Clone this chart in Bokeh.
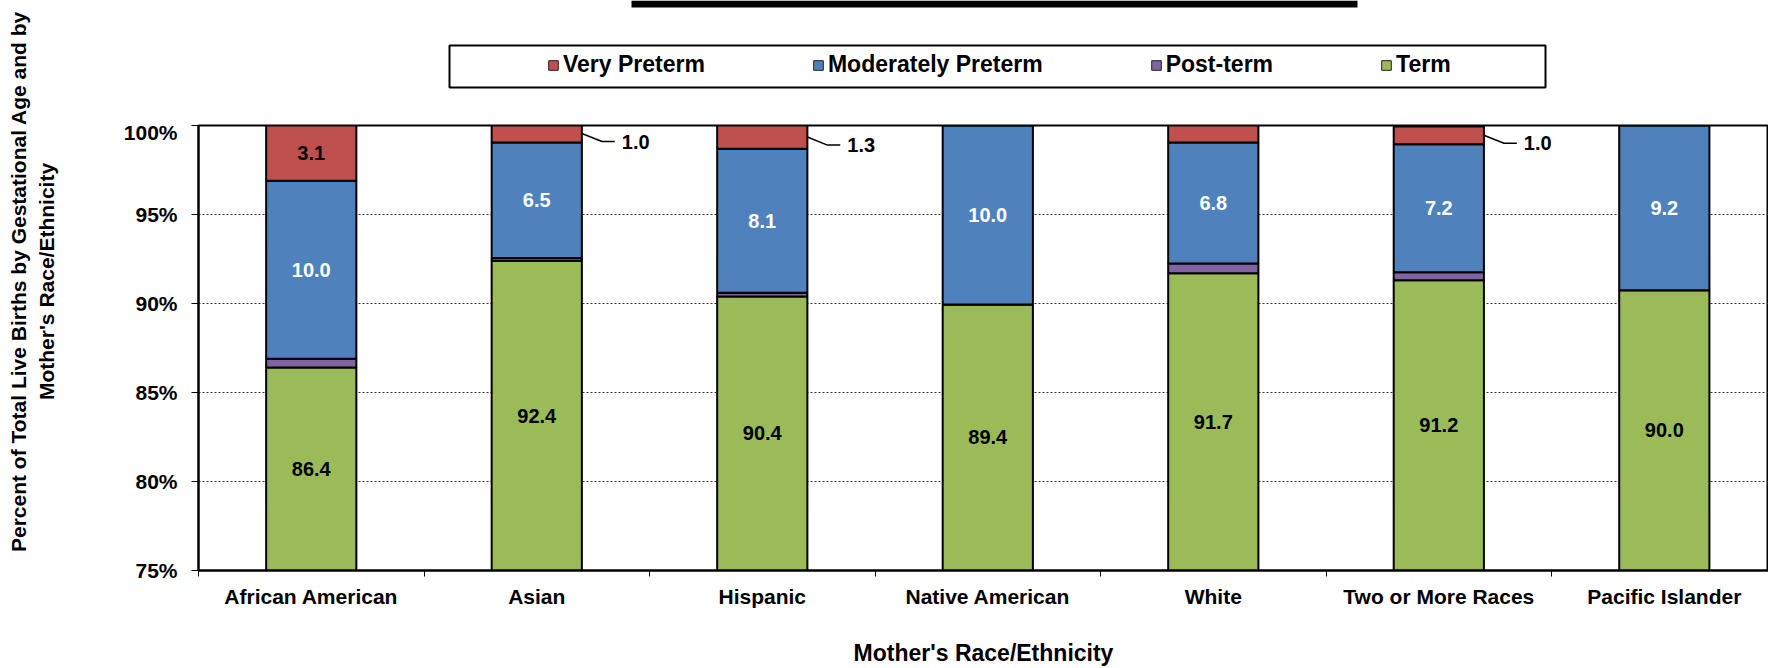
from math import pi
from bokeh.plotting import figure
from bokeh.layouts import row, column
from bokeh.models import (Range1d, FixedTicker, Legend, LegendItem, Label,
                          ColumnDataSource, PrintfTickFormatter)
from bokeh.core.properties import value
from bokeh.embed import file_html
from bokeh.resources import INLINE

# ---------------- data ----------------
categories = ["African American", "Asian", "Hispanic", "Native American",
              "White", "Two or More Races", "Pacific Islander"]
term = [86.4, 92.4, 90.4, 89.95, 91.7, 91.3, 90.75]
post_term = [0.5, 0.15, 0.2, 0.0, 0.55, 0.45, 0.0]
mod_preterm = [10.0, 6.5, 8.1, 10.05, 6.8, 7.2, 9.25]
very_preterm = [3.1, 1.0, 1.3, 0.0, 1.0, 1.0, 0.0]
term_labels = ["86.4", "92.4", "90.4", "89.4", "91.7", "91.2", "90.0"]
mod_labels = ["10.0", "6.5", "8.1", "10.0", "6.8", "7.2", "9.2"]
very_labels = ["3.1", "1.0", "1.3", "", "", "1.0", ""]
y_ticks = [75, 80, 85, 90, 95, 100]
grid_ticks = [80, 85, 90, 95]

series_names = ["Very Preterm", "Moderately Preterm", "Post-term", "Term"]
colors = {"Very Preterm": "#C0504D", "Moderately Preterm": "#4F81BD",
          "Post-term": "#8064A2", "Term": "#9BBB59"}

FONT = "Liberation Sans"
BAR_W = 0.4
LEFT_W = 60       # width of the strip holding the y-axis title
HEAD_H = 120      # height of the strip holding title bar + legend
FRAME_L = 198     # page x of the plot area's left edge
FRAME_W = 1570


def bare(fig):
    fig.xaxis.visible = False
    fig.yaxis.visible = False
    fig.xgrid.visible = False
    fig.ygrid.visible = False
    fig.outline_line_color = None
    fig.background_fill_color = "white"
    fig.border_fill_color = "white"
    return fig


# ---------------- left strip: y-axis title ----------------
left = bare(figure(width=LEFT_W, height=665, x_range=Range1d(0, LEFT_W),
                   y_range=Range1d(665, 0), output_backend="svg",
                   toolbar_location=None, min_border=0))
left.add_layout(Label(x=32, y=281,
                      text="Percent of Total Live Births by Gestational Age and by\nMother's Race/Ethnicity",
                      angle=pi / 2, text_align="center", text_baseline="middle",
                      text_font=FONT, text_font_style="bold", text_font_size="21px",
                      text_line_height=1.2, text_color="black"))

# ---------------- header strip: title bar + legend (page-pixel coordinates) ----------------
head = bare(figure(frame_width=FRAME_W, frame_height=HEAD_H,
                   x_range=Range1d(FRAME_L, FRAME_L + FRAME_W),
                   y_range=Range1d(HEAD_H, 0), output_backend="svg",
                   toolbar_location=None, min_border_left=FRAME_L - LEFT_W,
                   min_border_right=0, min_border_top=0, min_border_bottom=0))
head.quad(left=[631], right=[1357], top=[0], bottom=[7], fill_color="black", line_color=None)
proxies = {}
for name in series_names:
    # legend proxies, hidden underneath the legend box drawn next
    proxies[name] = head.vbar(x=[1000], top=[60], bottom=[70], width=10,
                              fill_color=colors[name], line_color="#222222", line_width=1)
head.quad(left=[449], right=[1545], top=[45], bottom=[87], fill_color="white",
          line_color="black", line_width=2)
legend = Legend(items=[LegendItem(label=n, renderers=[proxies[n]]) for n in series_names],
                location=(547 - FRAME_L, HEAD_H - 78), orientation="horizontal",
                spacing=107, padding=0, margin=0,
                glyph_width=12, glyph_height=12, label_standoff=4, label_height=24,
                label_text_font=FONT, label_text_font_style="bold",
                label_text_font_size="23px", label_text_color="black",
                border_line_color=None, background_fill_alpha=0)
head.add_layout(legend)

# ---------------- main chart ----------------
xc = [i + 0.5 for i in range(len(categories))]
src = ColumnDataSource(dict(x=xc, term=term, post=post_term,
                            mod=mod_preterm, very=very_preterm))

p = figure(frame_width=FRAME_W, frame_height=445,
           x_range=Range1d(0, 6.962), y_range=Range1d(75, 100),
           output_backend="svg", toolbar_location=None,
           min_border_left=FRAME_L - LEFT_W, min_border_right=0,
           min_border_top=125 - HEAD_H, min_border_bottom=0)
p.outline_line_color = "black"
p.outline_line_width = 2
p.background_fill_color = "white"
p.border_fill_color = "white"

p.xgrid.visible = False
p.ygrid.ticker = FixedTicker(ticks=grid_ticks)
p.ygrid.grid_line_color = "#333333"
p.ygrid.grid_line_dash = "2 2"
p.ygrid.grid_line_width = 1

renderers = p.vbar_stack(["term", "post", "mod", "very"], x="x", width=BAR_W, source=src,
                         fill_color=[colors["Term"], colors["Post-term"],
                                     colors["Moderately Preterm"], colors["Very Preterm"]],
                         line_color="black", line_width=2)

# data labels
ystart = p.y_range.start
term_y = [(ystart + t) / 2 for t in term]
mod_y = [t + pt + m / 2 for t, pt, m in zip(term, post_term, mod_preterm)]
p.text(x=xc, y=term_y, text=term_labels, text_align="center", text_baseline="middle",
       text_font=value(FONT), text_font_style="bold", text_font_size="20px", text_color="black")
p.text(x=xc, y=mod_y, text=mod_labels, text_align="center", text_baseline="middle",
       text_font=value(FONT), text_font_style="bold", text_font_size="20px", text_color="white")

in_x, in_y, in_t = [], [], []
co_x, co_y, co_t, lead_xs, lead_ys = [], [], [], [], []
for x, t, pt, m, v, lab in zip(xc, term, post_term, mod_preterm, very_preterm, very_labels):
    if not lab:
        continue
    yc = t + pt + m + v / 2
    if v >= 2:
        in_x.append(x); in_y.append(yc); in_t.append(lab)
    else:
        yl = yc - 0.45
        xr = x + BAR_W / 2
        lead_xs.append([xr, xr + 0.089, xr + 0.146])
        lead_ys.append([yc, yl, yl])
        co_x.append(xr + 0.177); co_y.append(yl); co_t.append(lab)
p.text(x=in_x, y=in_y, text=in_t, text_align="center", text_baseline="middle",
       text_font=value(FONT), text_font_style="bold", text_font_size="20px", text_color="black")
p.multi_line(xs=lead_xs, ys=lead_ys, line_color="black", line_width=1.5)
p.text(x=co_x, y=co_y, text=co_t, text_align="left", text_baseline="middle",
       text_font=value(FONT), text_font_style="bold", text_font_size="20px", text_color="black")

# axes
ya = p.yaxis[0]
ya.ticker = FixedTicker(ticks=y_ticks)
ya.formatter = PrintfTickFormatter(format="%d%%")
ya.axis_line_color = "black"
ya.axis_line_width = 2
ya.major_tick_line_color = "black"
ya.major_tick_line_width = 1
ya.major_tick_out = 7
ya.major_tick_in = 0
ya.minor_tick_line_color = None
ya.major_label_standoff = 14
ya.major_label_text_font = FONT
ya.major_label_text_font_style = "bold"
ya.major_label_text_font_size = "21px"
ya.major_label_text_color = "black"

xa = p.xaxis[0]
xa.ticker = FixedTicker(ticks=xc, minor_ticks=list(range(len(categories) + 1)))
xa.major_label_overrides = {x: c for x, c in zip(xc, categories)}
xa.axis_line_color = "black"
xa.axis_line_width = 2
xa.major_tick_line_color = None
xa.major_tick_out = 6
xa.major_tick_in = 0
xa.minor_tick_line_color = "black"
xa.minor_tick_line_width = 1
xa.minor_tick_out = 6
xa.minor_tick_in = 0
xa.major_label_standoff = 8
xa.major_label_text_font = FONT
xa.major_label_text_font_style = "bold"
xa.major_label_text_font_size = "21px"
xa.major_label_text_color = "black"
xa.axis_label = "Mother's Race/Ethnicity"
xa.axis_label_standoff = 29
xa.axis_label_text_font = FONT
xa.axis_label_text_font_style = "bold"
xa.axis_label_text_font_size = "23px"
xa.axis_label_text_color = "black"

layout = row(left, column(head, p, spacing=0), spacing=0)
open("out.html", "w").write(file_html(layout, INLINE))
